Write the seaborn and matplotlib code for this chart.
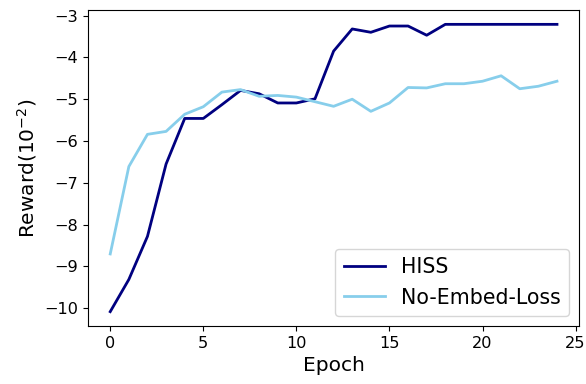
import numpy as np
import pandas as pd
import matplotlib
matplotlib.use("Agg")
import matplotlib.pyplot as plt
import seaborn as sns

epochs = list(range(25))
hiss = [-10.08, -9.31, -8.28, -6.55, -5.46, -5.46, -5.13, -4.79, -4.87, -5.09,
        -5.09, -4.99, -3.85, -3.32, -3.40, -3.25, -3.25, -3.47, -3.21, -3.21,
        -3.21, -3.21, -3.21, -3.21, -3.21]
no_embed = [-8.70, -6.61, -5.84, -5.77, -5.36, -5.18, -4.83, -4.77, -4.93, -4.91,
            -4.95, -5.06, -5.17, -5.00, -5.29, -5.09, -4.72, -4.73, -4.63, -4.63,
            -4.57, -4.44, -4.75, -4.69, -4.57]
series_names = ["HISS", "No-Embed-Loss"]
colors = ["navy", "skyblue"]

df = pd.DataFrame({
    "Epoch": epochs * 2,
    "Reward": hiss + no_embed,
    "Method": [series_names[0]] * len(epochs) + [series_names[1]] * len(epochs),
})

fig = plt.figure(figsize=(5.86, 3.84), dpi=100)
ax = fig.add_axes([0.150, 0.151, 0.8386, 0.823])
sns.lineplot(data=df, x="Epoch", y="Reward", hue="Method",
             palette=dict(zip(series_names, colors)), linewidth=2, ax=ax)
ax.set_xlabel("Epoch", fontsize=14.5)
ax.set_ylabel(r"Reward($10^{-2}$)", fontsize=14.5)
ax.tick_params(labelsize=11.6)
ax.set_xticks([0, 5, 10, 15, 20, 25])
ax.set_yticks([-10, -9, -8, -7, -6, -5, -4, -3])
leg = ax.legend(loc="lower right", fontsize=14.8, title=None)
fig.savefig("out.png", dpi=100)
